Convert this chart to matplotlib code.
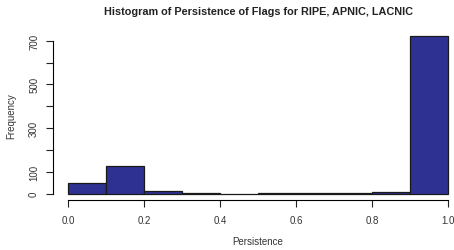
import matplotlib
matplotlib.use('Agg')
import matplotlib.pyplot as plt
import numpy as np

plt.rcParams['font.family'] = ['Liberation Sans', 'DejaVu Sans']

# histogram bins (Persistence) and counts
bin_edges = [0.0, 0.1, 0.2, 0.3, 0.4, 0.5, 0.6, 0.7, 0.8, 0.9, 1.0]
counts = [48, 127, 14, 5, 0, 4, 4, 2, 9, 720]

x_ticks = [0.0, 0.2, 0.4, 0.6, 0.8, 1.0]
x_tick_labels = ['0.0', '0.2', '0.4', '0.6', '0.8', '1.0']
y_ticks = [0, 100, 200, 300, 400, 500, 600, 700]
y_tick_labels = ['0', '100', '', '300', '', '500', '', '700']

BAR_COLOR = '#2e3192'

fig = plt.figure(figsize=(4.54, 2.51), dpi=100)
W, H = 454, 251
left, right, top, bottom = 53, 463, 31, 201
ax = fig.add_axes([left / W, (H - bottom) / H, (right - left) / W, (bottom - top) / H])

widths = np.diff(bin_edges)
ax.bar(bin_edges[:-1], counts, width=widths, align='edge',
       color=BAR_COLOR, edgecolor='#1a1a1a', linewidth=0.9)

# R style 4% padding
ymax = max(counts)
ax.set_xlim(-0.04, 1.04)
ax.set_ylim(-0.04 * ymax, ymax * 1.04)

for s in ['top', 'right']:
    ax.spines[s].set_visible(False)
ax.spines['bottom'].set_bounds(0, 1)
ax.spines['left'].set_bounds(0, 700)
ax.spines['bottom'].set_linewidth(0.8)
ax.spines['left'].set_linewidth(0.8)

ax.set_xticks(x_ticks, x_tick_labels)
ax.set_yticks(y_ticks, y_tick_labels)
ax.tick_params(axis='both', length=5, width=0.8, labelsize=7, colors='#222222',
               labelcolor='#333333')
ax.tick_params(axis='x', pad=6)
ax.tick_params(axis='y', pad=5)
for lab in ax.get_yticklabels():
    lab.set_rotation(90)
    lab.set_verticalalignment('center')

ax.set_xlabel('Persistence', fontsize=7, color='#333333', labelpad=8)
ax.set_ylabel('Frequency', fontsize=7, color='#333333', labelpad=9)
fig.suptitle('Histogram of Persistence of Flags for RIPE, APNIC, LACNIC',
             x=259 / W, y=1 - 12 / H, va='center', fontsize=7.8,
             fontweight='bold', color='#222222')

fig.savefig('out.png', dpi=100)
